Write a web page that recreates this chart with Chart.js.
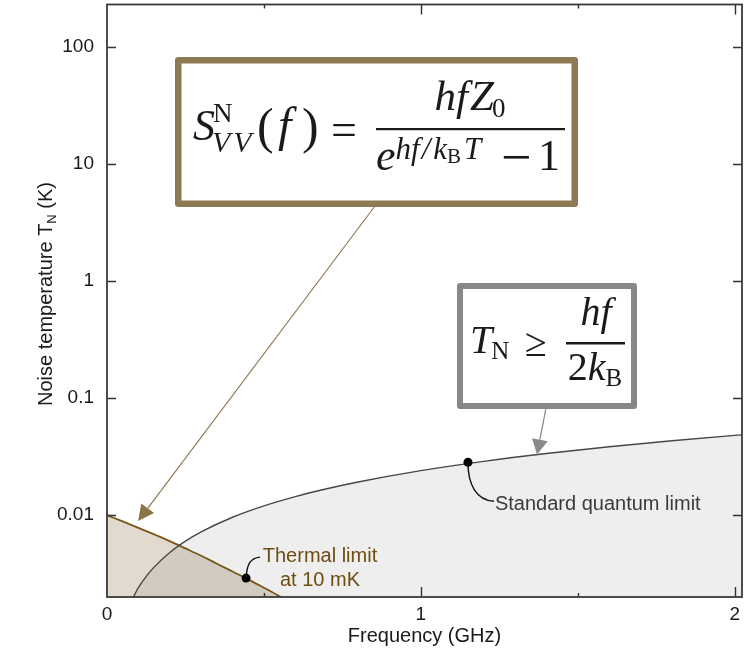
<!DOCTYPE html>
<html>
<head>
<meta charset="utf-8">
<script src="https://cdn.jsdelivr.net/npm/chart.js@4"></script>
<style>
  html, body { margin: 0; padding: 0; background: #fff; }
  #wrap { width: 756px; height: 649px; }
</style>
</head>
<body>
<div id="wrap"><canvas id="chart" width="756" height="649"></canvas></div>
<script>
// Thermal noise floor of a 10 mK resistor, read in GHz / K
const thermalFreq = [0, 0.05, 0.10, 0.15, 0.20, 0.25, 0.30, 0.35, 0.40, 0.45, 0.50, 0.55, 0.60];
const thermalTemp = [0.0100, 0.00885, 0.00780, 0.00685, 0.00600, 0.00520, 0.00450, 0.00385, 0.00330, 0.00283, 0.00240, 0.00203, 0.00170];

// Standard quantum limit of an amplifier's noise temperature
const sqlFreq = [0.08, 0.10, 0.125, 0.15, 0.20, 0.25, 0.30, 0.40, 0.50, 0.60, 0.70, 0.80, 1.00, 1.20, 1.40, 1.60, 1.80, 2.00, 2.03];
const sqlTemp = [0.0019, 0.0024, 0.0030, 0.0036, 0.0048, 0.0060, 0.0072, 0.0096, 0.0120, 0.0144, 0.0168, 0.0192, 0.0240, 0.0288, 0.0336, 0.0384, 0.0432, 0.0480, 0.0487];

// Labelled points on the two curves: [standard quantum limit, thermal limit]
const markerFreq = [1.15, 0.443];
const markerTemp = [0.0283, 0.0029];

// Points the two formula arrows aim at: [thermal formula, quantum-limit formula]
const arrowFreq = [0.099, 1.37];
const arrowTemp = [0.0089, 0.033];

// Axis ticks
const xTickValues = [0, 1, 2];
const xTickLabels = ['0', '1', '2'];
const xMinorTicks = [0.5, 1.5];
const yTickValues = [0.01, 0.1, 1, 10, 100];
const yTickLabels = ['0.01', '0.1', '1', '10', '100'];

const SANS = '"Liberation Sans", Arial, Helvetica, sans-serif';
const SERIF = '"Liberation Serif", "Times New Roman", serif';
const INK = '#1a1a1a';
const BROWN_BOX = '#8d7a52';
const GREY_BOX = '#878787';

const pts = (xs, ys) => xs.map((x, i) => ({ x: x, y: ys[i] }));

function put(ctx, str, x, y, font, color, align) {
  ctx.font = font;
  ctx.fillStyle = color || INK;
  ctx.textAlign = align || 'left';
  ctx.textBaseline = 'alphabetic';
  ctx.fillText(str, x, y);
  return x + ctx.measureText(str).width;
}

function chain(ctx, pieces, x, draw) {
  for (const p of pieces) {
    ctx.font = p.font;
    if (draw) {
      ctx.fillStyle = INK;
      ctx.textAlign = 'left';
      ctx.textBaseline = 'alphabetic';
      ctx.fillText(p.t, x + (p.dx || 0), p.y);
    }
    x += ctx.measureText(p.t).width + (p.dx || 0) + (p.after || 0);
  }
  return x;
}

function chainCentered(ctx, pieces, cx) {
  const w = chain(ctx, pieces, 0, false);
  chain(ctx, pieces, cx - w / 2, true);
}

function frameBox(ctx, x0, y0, x1, y1, lw, color) {
  ctx.save();
  ctx.fillStyle = '#ffffff';
  ctx.fillRect(x0, y0, x1 - x0, y1 - y0);
  ctx.strokeStyle = color;
  ctx.lineWidth = lw;
  ctx.lineJoin = 'round';
  ctx.strokeRect(x0 + lw / 2, y0 + lw / 2, x1 - x0 - lw, y1 - y0 - lw);
  ctx.restore();
}

function arrow(ctx, x0, y0, x1, y1, color, lw, headLen, headHalf) {
  const a = Math.atan2(y1 - y0, x1 - x0);
  const bx = x1 - headLen * Math.cos(a), by = y1 - headLen * Math.sin(a);
  ctx.save();
  ctx.strokeStyle = color;
  ctx.fillStyle = color;
  ctx.lineWidth = lw;
  ctx.beginPath();
  ctx.moveTo(x0, y0);
  ctx.lineTo(bx, by);
  ctx.stroke();
  ctx.beginPath();
  ctx.moveTo(x1, y1);
  ctx.lineTo(bx + headHalf * Math.sin(a), by - headHalf * Math.cos(a));
  ctx.lineTo(bx - headHalf * Math.sin(a), by + headHalf * Math.cos(a));
  ctx.closePath();
  ctx.fill();
  ctx.restore();
}

// keep the plot area fixed: no extra room reserved for overhanging tick labels
function fixScale(size, key) {
  return s => {
    s[key] = size;
    s.paddingTop = 0; s.paddingBottom = 0; s.paddingLeft = 0; s.paddingRight = 0;
  };
}

const decorations = {
  id: 'decorations',
  afterDatasetsDraw(chart) {
    const { ctx, chartArea: ca, scales: { x, y } } = chart;
    ctx.save();
    // inward tick marks on all four sides
    ctx.strokeStyle = '#333';
    ctx.lineWidth = 1.4;
    ctx.beginPath();
    yTickValues.forEach(v => {
      const py = Math.round(y.getPixelForValue(v)) + 0.5;
      ctx.moveTo(ca.left, py); ctx.lineTo(ca.left + 9, py);
      ctx.moveTo(ca.right, py); ctx.lineTo(ca.right - 9, py);
    });
    xTickValues.slice(1).forEach(v => {
      const px = Math.round(x.getPixelForValue(v)) + 0.5;
      ctx.moveTo(px, ca.bottom); ctx.lineTo(px, ca.bottom - 10);
      ctx.moveTo(px, ca.top); ctx.lineTo(px, ca.top + 10);
    });
    xMinorTicks.forEach(v => {
      const px = Math.round(x.getPixelForValue(v)) + 0.5;
      ctx.moveTo(px, ca.bottom); ctx.lineTo(px, ca.bottom - 4);
      ctx.moveTo(px, ca.top); ctx.lineTo(px, ca.top + 4);
    });
    ctx.stroke();
    // plot frame
    ctx.strokeStyle = '#3a3a3a';
    ctx.lineWidth = 1.8;
    ctx.strokeRect(ca.left, ca.top, ca.right - ca.left, ca.bottom - ca.top);
    ctx.restore();
  },
  afterDraw(chart) {
    const { ctx, scales: { x, y } } = chart;
    ctx.save();

    // rotated y-axis title with subscript
    ctx.translate(45, 294);
    ctx.rotate(-Math.PI / 2);
    const t1 = 'Noise temperature T', t2 = 'N', t3 = ' (K)';
    const f1 = `20px ${SANS}`, f2 = `13px ${SANS}`;
    ctx.font = f1; const w1 = ctx.measureText(t1).width, w3 = ctx.measureText(t3).width;
    ctx.font = f2; const w2 = ctx.measureText(t2).width;
    let tx = -(w1 + w2 + w3) / 2;
    tx = put(ctx, t1, tx, 7, f1, '#1a1a1a');
    tx = put(ctx, t2, tx, 11, f2, '#1a1a1a');
    put(ctx, t3, tx, 7, f1, '#1a1a1a');
    ctx.setTransform(1, 0, 0, 1, 0, 0);

    // leader curves from the marked points to their labels
    const sx = x.getPixelForValue(markerFreq[0]), sy = y.getPixelForValue(markerTemp[0]);
    const hx = x.getPixelForValue(markerFreq[1]), hy = y.getPixelForValue(markerTemp[1]);
    ctx.strokeStyle = '#111';
    ctx.lineWidth = 1.4;
    ctx.beginPath();
    ctx.moveTo(sx, sy);
    ctx.bezierCurveTo(sx, sy + 22, sx + 8, sy + 38, sx + 26, sy + 39);
    ctx.moveTo(hx, hy);
    ctx.bezierCurveTo(hx + 1, hy - 14, hx + 4, hy - 20, hx + 14, hy - 21);
    ctx.stroke();

    put(ctx, 'Standard quantum limit', sx + 27, 510, `20px ${SANS}`, '#3a3a3a');
    put(ctx, 'Thermal limit', 320, 562, `20px ${SANS}`, '#6e4d12', 'center');
    put(ctx, 'at 10 mK', 320, 586, `20px ${SANS}`, '#6e4d12', 'center');

    // arrows from the formula boxes to the curves they describe
    arrow(ctx, 375, 206, x.getPixelForValue(arrowFreq[0]), y.getPixelForValue(arrowTemp[0]), '#8a7548', 1.1, 16, 8);
    arrow(ctx, 546, 408, x.getPixelForValue(arrowFreq[1]), y.getPixelForValue(arrowTemp[1]), '#8a8a8a', 1.3, 15, 8);

    // thermal noise spectral density formula
    frameBox(ctx, 175, 57, 578, 207, 6.5, BROWN_BOX);
    const it44 = `italic 44px ${SERIF}`;
    put(ctx, 'S', 193, 140, it44);
    put(ctx, 'N', 213, 122, `27px ${SERIF}`);
    chain(ctx, [
      { t: 'V', font: `italic 30px ${SERIF}`, y: 152, after: 3 },
      { t: 'V', font: `italic 30px ${SERIF}`, y: 152 }
    ], 212, true);
    put(ctx, '(', 257, 143, `50px ${SERIF}`);
    put(ctx, 'f', 278, 141, `italic 48px ${SERIF}`);
    put(ctx, ')', 302, 143, `50px ${SERIF}`);
    put(ctx, '=', 331, 145, `46px ${SERIF}`);
    ctx.fillStyle = INK;
    ctx.fillRect(376, 128, 189, 2.2);
    chainCentered(ctx, [
      { t: 'hf', font: `italic 43px ${SERIF}`, y: 110, after: 2 },
      { t: 'Z', font: `italic 43px ${SERIF}`, y: 110, after: -2 },
      { t: '0', font: `27px ${SERIF}`, y: 117 }
    ], 470);
    const ex = put(ctx, 'e', 376, 170, `italic 44px ${SERIF}`);
    chain(ctx, [
      { t: 'hf', font: `italic 31px ${SERIF}`, y: 159, after: 2 },
      { t: '/', font: `italic 31px ${SERIF}`, y: 159, after: 3 },
      { t: 'k', font: `italic 31px ${SERIF}`, y: 159 },
      { t: 'B', font: `21px ${SERIF}`, y: 163, after: 3 },
      { t: 'T', font: `italic 31px ${SERIF}`, y: 159 }
    ], ex, true);
    put(ctx, '\u2212', 501, 175, `54px ${SERIF}`);
    put(ctx, '1', 538, 170, `44px ${SERIF}`);

    // standard quantum limit formula
    frameBox(ctx, 457, 283, 637, 409, 6, GREY_BOX);
    const tx2 = put(ctx, 'T', 470, 353, `italic 40px ${SERIF}`);
    put(ctx, 'N', tx2 - 1, 359, `25px ${SERIF}`);
    put(ctx, '\u2265', 525, 356, `40px ${SERIF}`);
    ctx.fillStyle = INK;
    ctx.fillRect(566, 342, 59, 2.5);
    chainCentered(ctx, [
      { t: 'hf', font: `italic 40px ${SERIF}`, y: 325 }
    ], 596);
    chainCentered(ctx, [
      { t: '2', font: `40px ${SERIF}`, y: 380 },
      { t: 'k', font: `italic 40px ${SERIF}`, y: 380 },
      { t: 'B', font: `25px ${SERIF}`, y: 386 }
    ], 595);

    ctx.restore();
  }
};

new Chart(document.getElementById('chart'), {
  type: 'line',
  data: {
    datasets: [
      {
        label: 'Marked points',
        data: pts(markerFreq, markerTemp),
        showLine: false,
        pointRadius: 4.5,
        pointBackgroundColor: '#000',
        pointBorderWidth: 0,
        fill: false
      },
      {
        label: 'Standard quantum limit',
        data: pts(sqlFreq, sqlTemp),
        borderColor: '#474747',
        borderWidth: 1.4,
        backgroundColor: 'rgba(0,0,0,0.066)',
        fill: 'start',
        pointRadius: 0,
        cubicInterpolationMode: 'monotone'
      },
      {
        label: 'Thermal limit at 10 mK',
        data: pts(thermalFreq, thermalTemp),
        borderColor: '#7a5719',
        borderWidth: 1.8,
        backgroundColor: '#e2dace',
        fill: 'start',
        pointRadius: 0,
        cubicInterpolationMode: 'monotone'
      }
    ]
  },
  options: {
    responsive: false,
    animation: false,
    events: [],
    layout: { padding: { top: 4, right: 14, left: 0, bottom: 0 } },
    plugins: {
      legend: { display: false },
      tooltip: { enabled: false },
      filler: { drawTime: 'beforeDatasetsDraw' }
    },
    scales: {
      x: {
        type: 'linear',
        min: 0,
        max: 2.023,
        grid: { display: false, drawTicks: false },
        border: { display: false },
        afterBuildTicks: s => { s.ticks = xTickValues.map(v => ({ value: v })); },
        afterFit: fixScale(52, 'height'),
        ticks: {
          padding: 6,
          color: '#1a1a1a',
          font: { size: 19, family: SANS },
          maxRotation: 0,
          autoSkip: false,
          callback: (v, i) => xTickLabels[i]
        },
        title: {
          display: true,
          text: 'Frequency (GHz)',
          color: '#1a1a1a',
          font: { size: 20, family: SANS },
          padding: { top: 0, bottom: 1 }
        }
      },
      y: {
        type: 'logarithmic',
        min: 0.002,
        max: 230,
        grid: { display: false, drawTicks: false },
        border: { display: false },
        afterBuildTicks: s => { s.ticks = yTickValues.map(v => ({ value: v })); },
        afterFit: fixScale(107, 'width'),
        ticks: {
          padding: 13,
          color: '#1a1a1a',
          font: { size: 19, family: SANS },
          autoSkip: false,
          callback: (v, i) => yTickLabels[i]
        }
      }
    }
  },
  plugins: [decorations]
});
</script>
</body>
</html>
